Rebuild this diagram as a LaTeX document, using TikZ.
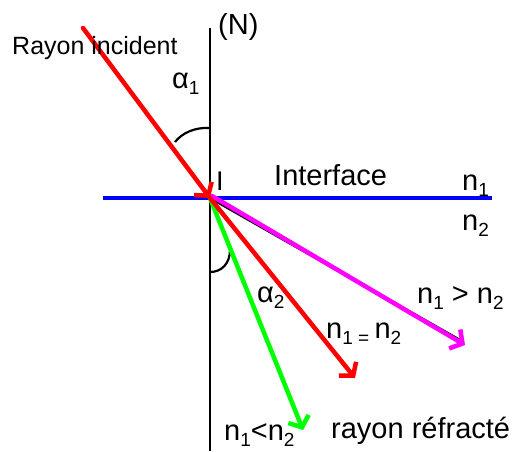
\documentclass[tikz,border=0pt]{standalone}
\usepackage{fontspec}
\setmainfont{Liberation Sans}
\usetikzlibrary{arrows.meta}
\newcommand\mysub[1]{\raisebox{-0.22em}{\fontsize{19}{19}\selectfont #1}}
\begin{document}
\begin{tikzpicture}[x=1pt,y=1pt,
  ray/.style={line width=4.5pt,line cap=round,-{Straight Barb[length=9pt,width=22pt,line width=4.5pt]}},
  lbl/.style={inner sep=0pt,anchor=base west,font=\fontsize{29}{32}\selectfont},
  arcline/.style={line width=2.2pt,black}]
\useasboundingbox (0,0) rectangle (525,-451);
\definecolor{mag}{RGB}{255,0,255}
\definecolor{grn}{RGB}{0,255,0}
% coordinates
\coordinate (I) at (210,-198);
\coordinate (Ntop) at (210,-28);
\coordinate (Nbot) at (210,-451);
\coordinate (Bl) at (103,-198);
\coordinate (Br) at (492,-198);
\coordinate (S) at (83,-28);
\coordinate (Tm) at (465,-345);
\coordinate (Ms) at (212,-196);
\coordinate (Tb) at (460,-340);
\coordinate (Tr) at (355,-378);
\coordinate (Tg) at (303,-430);
% normal and interface
\draw[line width=2.4pt] (Ntop) -- (Nbot);
\draw[line width=4pt,blue] (Bl) -- (Br);
% angle arcs
\draw[arcline] (210,-128) .. controls (195,-127) and (182,-133) .. (175,-142);
\draw[arcline] (210,-272) .. controls (222,-272) and (230,-263) .. (230,-250);
% rays
\draw[line width=2.4pt,black] (I) -- (Tb);
\draw[ray,mag] (Ms) -- (Tm);
\draw[ray,grn] (I) -- (Tg);
\draw[ray,red] (I) -- (Tr);
\draw[ray,red] (S) -- (I);
% labels
\node[lbl,font=\fontsize{25}{28}\selectfont] (ri) at (12,-54) {Rayon incident};
\node[lbl] (N) at (218,-34) {(N)};
\node[lbl] (a1) at (172,-88) {α\mysub{1}};
\node[lbl,font=\fontsize{27}{30}\selectfont] (Il) at (216,-190) {I};
\node[lbl] (int) at (274,-185) {Interface};
\node[lbl] (n1) at (462,-190) {n\mysub{1}};
\node[lbl] (n2) at (462,-230) {n\mysub{2}};
\node[lbl] (gt) at (417,-303) {n\mysub{1} > n\mysub{2}};
\node[lbl] (eq) at (326,-338) {n\mysub{1}\mysub{ = }n\mysub{2}};
\node[lbl] (a2) at (257,-302) {α\mysub{2}};
\node[lbl] (lt) at (224,-440) {n\mysub{1}<n\mysub{2}};
\node[lbl] (rr) at (331,-438) {rayon réfracté};
\end{tikzpicture}
\end{document}
